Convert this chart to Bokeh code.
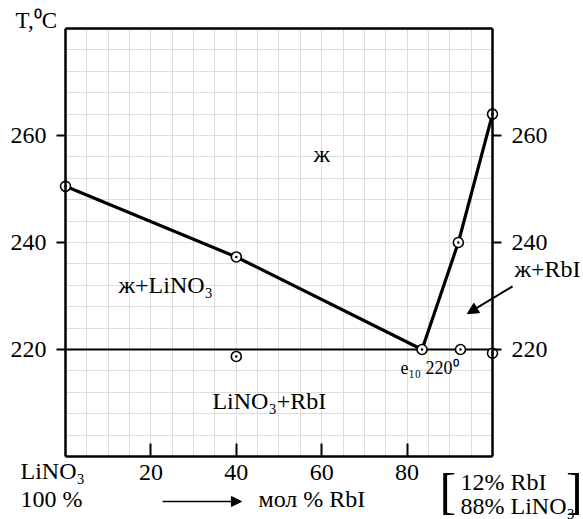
from bokeh.plotting import figure
from bokeh.models import (Range1d, FixedTicker, LinearAxis, Label, Arrow, NormalHead, Grid)
from bokeh.embed import file_html
from bokeh.resources import INLINE

# ---- data ----
liq_left_x = [0, 40, 83.5]
liq_left_y = [250.5, 237.3, 220]
liq_right_x = [83.5, 92, 100]
liq_right_y = [220, 240, 264]
eut_x = [0, 100]
eut_y = [220, 220]
pts_x = [0, 40, 83.5, 92, 100, 40, 92.5, 100]
pts_y = [250.5, 237.3, 220, 240, 264, 218.7, 220, 219.3]
x_ticks = [20, 40, 60, 80]
y_ticks = [220, 240, 260]
X0, X1 = 0, 100
Y0, Y1 = 200, 280

FONT = "Liberation Serif"

# the frame covers the whole page; the diagram box is drawn by fixed axes
p = figure(width=583, height=519,
           x_range=Range1d(-15.222, 121.311), y_range=Range1d(188.224, 285.234),
           output_backend="svg", toolbar_location=None,
           min_border=0, x_axis_location=None, y_axis_location=None)
p.outline_line_color = None
p.background_fill_color = "white"
p.border_fill_color = "white"
p.xgrid.visible = False
p.ygrid.visible = False

# grid (limited to the diagram box)
gx = Grid(dimension=0, ticker=FixedTicker(ticks=list(range(X0, X1 + 1, 5))))
gy = Grid(dimension=1, ticker=FixedTicker(ticks=list(range(Y0, Y1 + 1, 4))))
gx.bounds = (X0, X1)
gy.bounds = (Y0, Y1)
if "cross_bounds" in Grid.properties():
    gx.cross_bounds = (Y0, Y1)
    gy.cross_bounds = (X0, X1)
for g in (gx, gy):
    g.grid_line_color = "#dddddd"
    g.grid_line_width = 1
    p.add_layout(g)

# axes
bottom = LinearAxis(ticker=FixedTicker(ticks=x_ticks), fixed_location=Y0, bounds=(X0, X1))
top = LinearAxis(ticker=FixedTicker(ticks=[]), fixed_location=Y1, bounds=(X0, X1))
left = LinearAxis(ticker=FixedTicker(ticks=y_ticks), fixed_location=X0, bounds=(Y0, Y1))
right = LinearAxis(ticker=FixedTicker(ticks=y_ticks), fixed_location=X1, bounds=(Y0, Y1))
for ax in (bottom, top, left, right):
    ax.axis_line_width = 2.5
    ax.axis_line_color = "black"
    ax.major_tick_line_width = 2
    ax.major_tick_line_color = "black"
    ax.minor_tick_line_color = None
    ax.major_label_text_font = FONT
    ax.major_label_text_font_size = "24px"
    ax.major_label_text_color = "black"
bottom.major_tick_in = 13
bottom.major_tick_out = 0
bottom.major_label_standoff = 9
for ax in (left, right):
    ax.major_tick_in = 0
    ax.major_tick_out = 9
    ax.major_label_standoff = 10
top.major_tick_line_color = None
p.add_layout(bottom, "below")
p.add_layout(top, "above")
p.add_layout(left, "left")
p.add_layout(right, "right")

# lines and points
p.line(eut_x, eut_y, line_color="black", line_width=2)
p.line(liq_left_x, liq_left_y, line_color="black", line_width=3.2)
p.line(liq_right_x, liq_right_y, line_color="black", line_width=3.2)
p.scatter(pts_x, pts_y, marker="circle_dot", size=10, fill_color="white",
          line_color="black", line_width=1.6)


def lab(text, x, y, size=24, align="left"):
    p.add_layout(Label(x=x, y=y, text=text, text_font=FONT,
                       text_font_size=f"{size}px", text_color="black",
                       text_align=align, text_baseline="middle"))

# axis title
lab("T,⁰C", -11.7, 281.5, 23)

# region labels
lab("ж", 60.0, 256.5, 24, "center")
lab("ж+LiNO₃", 12.4, 232.0)
lab("LiNO₃+RbI", 34.4, 210.3)
lab("ж+RbI", 105.15, 235.0)
lab("e₁₀ 220⁰", 78.45, 216.6, 18)

# bottom texts
lab("LiNO₃", -10.54, 197.23)
lab("100 %", -10.54, 192.0)
lab("мол % RbI", 45.2, 192.0)
lab("[", 87.6, 193.6, 50)
lab("12% RbI", 92.5, 195.2)
lab("88% LiNO₃", 92.5, 190.7)
lab("]", 117.2, 193.6, 50)

# arrows
p.add_layout(Arrow(x_start=22.72, y_start=191.59, x_end=41.2, y_end=191.59,
                   line_width=1.5, line_color="black",
                   end=NormalHead(size=10, fill_color="black", line_color="black")))
p.add_layout(Arrow(x_start=104.7, y_start=231.8, x_end=94.1, y_end=226.7,
                   line_width=2, line_color="black",
                   end=NormalHead(size=11, fill_color="black", line_color="black")))

open("out.html", "w").write(file_html(p, INLINE))
